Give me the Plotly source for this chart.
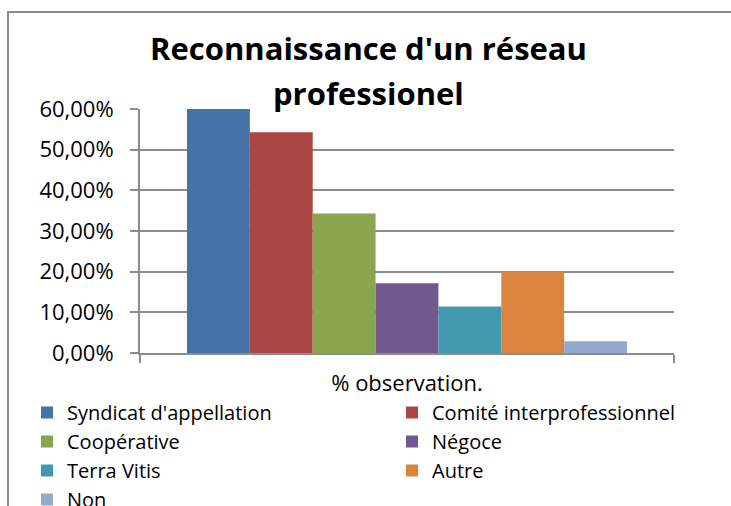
import plotly.graph_objects as go

category = ["% observation."]
series_names = ["Syndicat d'appellation", "Comité interprofessionnel", "Coopérative",
                "Négoce", "Terra Vitis", "Autre", "Non"]
series_values = [0.6000, 0.5429, 0.3429, 0.1714, 0.1143, 0.2000, 0.0286]
series_colors = ["#4572A7", "#AA4643", "#89A54E", "#71588F", "#4198AF", "#DB843D", "#93A9CF"]
y_ticks = [0, 0.1, 0.2, 0.3, 0.4, 0.5, 0.6]

W, H = 731, 506
PL, PR, PT, PB = 140, 674, 109, 353  # plot area in pixels

def fx(x):
    return x / W

def fy(y):
    return (PB - y) / (PB - PT)

fig = go.Figure()
for name, val, col in zip(series_names, series_values, series_colors):
    fig.add_trace(go.Bar(x=category, y=[val], name=name, marker=dict(color=col, line=dict(width=0))))

font = "'Open Sans', 'Liberation Sans', sans-serif"
fig.update_layout(
    width=W, height=H,
    margin=dict(l=0, r=0, t=PT, b=H - PB, autoexpand=False),
    paper_bgcolor="white", plot_bgcolor="white",
    separators=", ",
    barmode="group", bargap=0.176, bargroupgap=0,
    font=dict(family=font, size=21, color="black"),
    showlegend=True,
    legend=dict(orientation="h", x=fx(27), xanchor="left", y=fy(393), yanchor="top",
                entrywidth=320, entrywidthmode="pixels", font=dict(size=20),
                tracegroupgap=0, traceorder="normal"),
    xaxis=dict(type="category", domain=[PL / W, PR / W], showline=True, linecolor="#8c8c8c",
               linewidth=2, ticks="outside", tickson="boundaries", ticklen=8,
               tickcolor="#8c8c8c", tickwidth=2, tickfont=dict(size=22), ticklabelstandoff=10,
               showgrid=False, fixedrange=True),
    yaxis=dict(range=[0, 0.6], tickvals=y_ticks, tickformat=".2%", showline=True,
               linecolor="#8c8c8c", linewidth=2, ticks="outside", ticklen=8,
               tickcolor="#8c8c8c", tickwidth=2, showgrid=True, gridcolor="#8c8c8c",
               gridwidth=2, tickfont=dict(size=22), ticklabelstandoff=12,
               zeroline=False, fixedrange=True),
    annotations=[
        dict(text="<b>Reconnaissance d'un réseau</b>", xref="paper", yref="paper",
             x=fx(368), y=fy(48), xanchor="center", yanchor="middle", showarrow=False,
             font=dict(size=31, family=font)),
        dict(text="<b>professionel</b>", xref="paper", yref="paper",
             x=fx(368), y=fy(93), xanchor="center", yanchor="middle", showarrow=False,
             font=dict(size=31, family=font)),
    ],
    shapes=[dict(type="rect", xref="paper", yref="paper", x0=fx(8), x1=fx(760),
                 y0=fy(540), y1=fy(12), line=dict(color="#8c8c8c", width=2),
                 layer="below")],
)

fig.write_html("out.html", config={"displayModeBar": False},
               post_script="document.body.style.margin='0px';")
